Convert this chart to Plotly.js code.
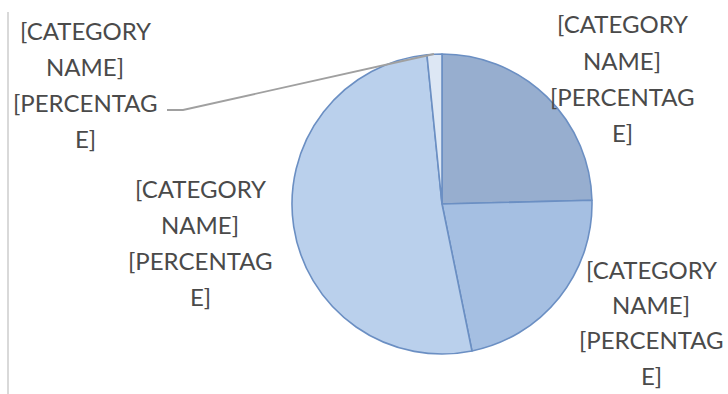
<!DOCTYPE html>
<html>
<head>
<meta charset="utf-8">
<script src="https://cdn.plot.ly/plotly-3.0.1.min.js"></script>
<style>
  html, body { margin: 0; padding: 0; background: #ffffff; }
  #chart { width: 728px; height: 394px; }
</style>
</head>
<body>
<div id="chart"></div>
<script>
// ---- data ----
const categories = ['Slice A', 'Slice B', 'Slice C', 'Slice D'];
const values = [24.6, 22.2, 51.6, 1.6];
const sliceColors = ['#97aecf', '#a5bfe2', '#bad0ec', '#dde7f4'];
// placeholder data labels, as wrapped in the reference
const labelLines = ['[CATEGORY', 'NAME]', '[PERCENTAG', 'E]'];

// ---- layout helpers (pixel -> paper) ----
const W = 728, H = 394;
const px = x => x / W;
const py = y => 1 - y / H;

// pie placement
const cx = 442, cy = 204, r = 150;

// label block anchors (centre x, first-line y, line step) per slice
const labelPos = [
  { x: 622, y: 24,  step: 36.2 },
  { x: 651, y: 269, step: 35.4 },
  { x: 200, y: 188, step: 36.2 },
  { x: 85,  y: 30,  step: 36.2 }
];

const annotations = [];
labelPos.forEach(p => {
  labelLines.forEach((t, i) => {
    annotations.push({
      xref: 'paper', yref: 'paper',
      x: px(p.x), y: py(p.y + i * p.step),
      xanchor: 'center', yanchor: 'middle',
      text: t, showarrow: false,
      font: { family: 'Lato, "Liberation Sans", sans-serif', size: 24, color: '#4a4a4a' }
    });
  });
});

const trace = {
  type: 'pie',
  labels: categories,
  values: values,
  sort: false,
  direction: 'clockwise',
  rotation: 0,
  textinfo: 'none',
  hoverinfo: 'none',
  showlegend: false,
  marker: { colors: sliceColors, line: { color: '#6b8fc3', width: 1.6 } },
  domain: { x: [px(cx - r), px(cx + r)], y: [py(cy + r), py(cy - r)] }
};

const shapes = [
  // leader line for smallest slice
  {
    type: 'path', xref: 'paper', yref: 'paper',
    path: `M ${px(167)},${py(110)} L ${px(183)},${py(110)} L ${px(434)},${py(54)}`,
    line: { color: '#a0a0a0', width: 1.8 }
  },
  // faint left frame edge
  {
    type: 'line', xref: 'paper', yref: 'paper',
    x0: px(8), x1: px(8), y0: py(12), y1: py(394),
    line: { color: '#d9d9d9', width: 2 }
  }
];

const layout = {
  width: W, height: H,
  margin: { l: 0, r: 0, t: 0, b: 0 },
  paper_bgcolor: '#ffffff',
  plot_bgcolor: '#ffffff',
  showlegend: false,
  annotations: annotations,
  shapes: shapes
};

Plotly.newPlot('chart', [trace], layout, { displayModeBar: false, staticPlot: true });
</script>
</body>
</html>
